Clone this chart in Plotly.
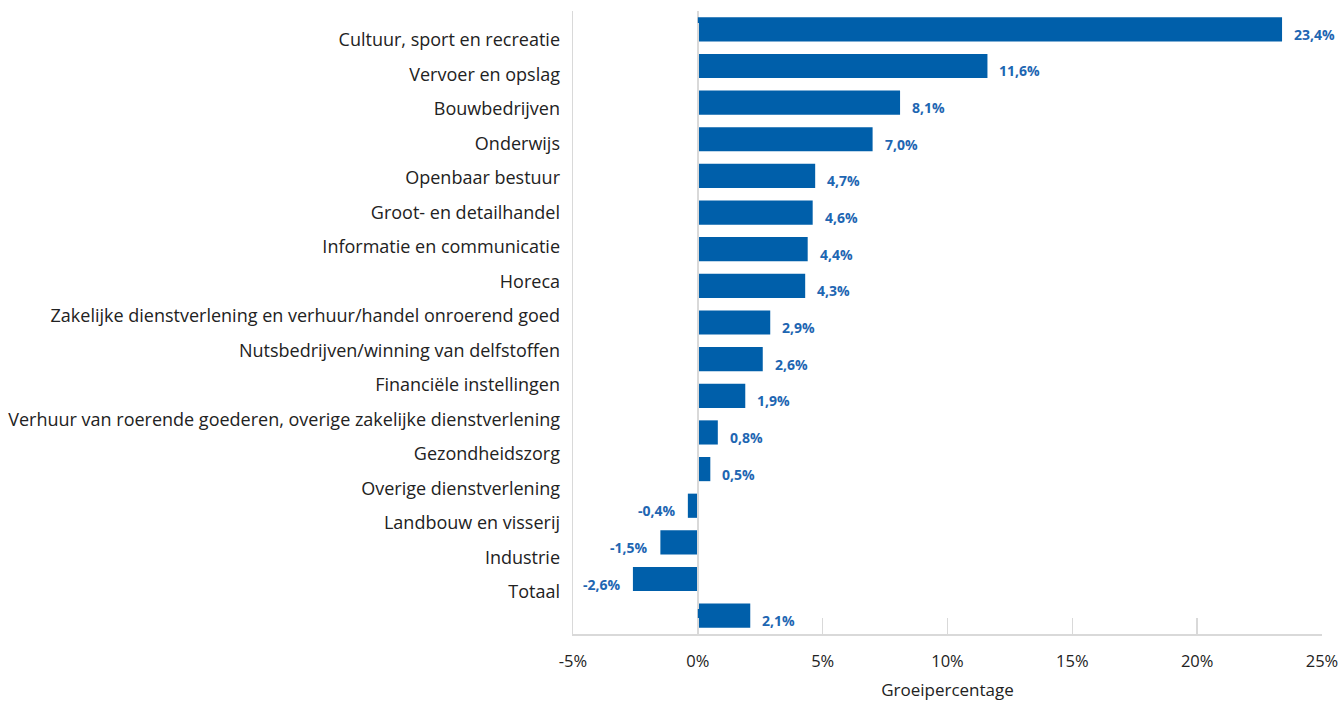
import plotly.graph_objects as go

sectors = [
    "Cultuur, sport en recreatie",
    "Vervoer en opslag",
    "Bouwbedrijven",
    "Onderwijs",
    "Openbaar bestuur",
    "Groot- en detailhandel",
    "Informatie en communicatie",
    "Horeca",
    "Zakelijke dienstverlening en verhuur/handel onroerend goed",
    "Nutsbedrijven/winning van delfstoffen",
    "Financiële instellingen",
    "Verhuur van roerende goederen, overige zakelijke dienstverlening",
    "Gezondheidszorg",
    "Overige dienstverlening",
    "Landbouw en visserij",
    "Industrie",
    "Totaal",
]
growth = [23.4, 11.6, 8.1, 7.0, 4.7, 4.6, 4.4, 4.3, 2.9, 2.6, 1.9, 0.8, 0.5, -0.4, -1.5, -2.6, 2.1]

x_tickvals = [-5, 0, 5, 10, 15, 20, 25]
x_ticktext = ["-5%", "0%", "5%", "10%", "15%", "20%", "25%"]
x_title = "Groeipercentage"

BAR = "#005FAA"
LABEL = "#1E66B2"
AXIS = "#D9D9D9"
TEXT = "#222222"
FONT = "Open Sans"

W, H = 1338, 701
ML, MR, MT, MB = 573, 16, 11, 67
plot_h = H - MT - MB

def fmt(v):
    return f"{v:.1f}".replace(".", ",") + "%"

n = len(sectors)
# label axis domain (labels are spaced slightly tighter than the bars)
lab_top_px, lab_bot_px = 22.75, 609.25
d0 = (H - MB - lab_bot_px) / plot_h
d1 = (H - MB - lab_top_px) / plot_h

fig = go.Figure()
fig.add_trace(go.Bar(
    x=growth, y=sectors, orientation="h", width=0.66,
    marker=dict(color=BAR, line=dict(width=0)),
    hoverinfo="skip", showlegend=False,
))
fig.add_trace(go.Scatter(
    x=growth, y=sectors, yaxis="y2", mode="markers",
    marker=dict(opacity=0), hoverinfo="skip", showlegend=False,
))

for s, v in zip(sectors, growth):
    fig.add_annotation(
        x=v, y=s, xref="x", yref="y", text=fmt(v), showarrow=False,
        xanchor="left" if v >= 0 else "right",
        xshift=10 if v >= 0 else -10, yshift=-5,
        font=dict(family=FONT, size=14, color=LABEL, weight="bold"),
    )

fig.update_layout(
    width=W, height=H,
    margin=dict(l=ML, r=MR, t=MT, b=MB, autoexpand=False),
    paper_bgcolor="white", plot_bgcolor="rgba(0,0,0,0)",
    font=dict(family=FONT, size=18, color=TEXT),
    xaxis=dict(
        range=[-5, 25], tickvals=x_tickvals, ticktext=x_ticktext,
        ticks="inside", ticklen=16, tickcolor=AXIS, tickwidth=1.5,
        showline=True, linecolor=AXIS, linewidth=1.5,
        zeroline=True, zerolinecolor=AXIS, zerolinewidth=1.5,
        showgrid=False, fixedrange=True,
        ticklabelstandoff=12, ticklabeloverflow="allow",
        tickfont=dict(size=16.5, color=TEXT),
        title=dict(text=x_title, standoff=19, font=dict(size=17, color=TEXT)),
        anchor="y",
    ),
    yaxis=dict(
        type="category", categoryorder="array", categoryarray=sectors,
        range=[n - 0.5, -0.5], domain=[0, 1],
        showticklabels=False, ticks="",
        showline=True, linecolor=AXIS, linewidth=1.5,
        showgrid=False, zeroline=False, fixedrange=True,
    ),
    yaxis2=dict(
        type="category", categoryorder="array", categoryarray=sectors,
        range=[n - 0.5, -0.5], domain=[d0, d1], anchor="x",
        showticklabels=True, ticks="", showline=False,
        showgrid=False, zeroline=False, fixedrange=True,
        ticklabelstandoff=12,
        tickfont=dict(size=18, color=TEXT),
    ),
)

fig.write_html(
    "out.html",
    config={"displayModeBar": False, "staticPlot": True},
    post_script=(
        "document.body.style.margin='0';"
        "document.documentElement.style.overflow='hidden';"
        "document.body.style.overflow='hidden';"
    ),
)
